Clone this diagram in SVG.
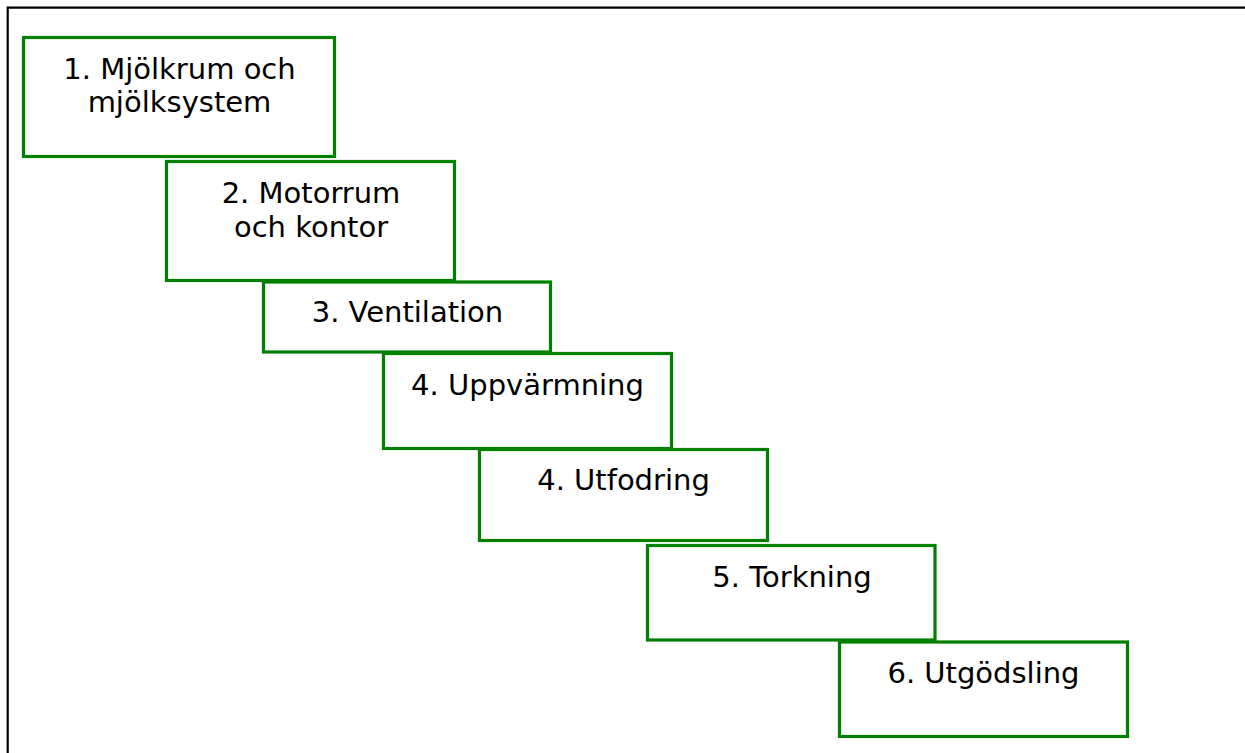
<svg xmlns="http://www.w3.org/2000/svg" width="1245" height="753" viewBox="0 0 1245 753">
<style>
.box{fill:#fff;stroke:#008000;stroke-width:3.2}
.t{font-family:"DejaVu Sans",Verdana,sans-serif;font-size:29px;fill:#000;text-anchor:middle}
.frame{stroke:#000;stroke-width:2.2;fill:none}
</style>
<rect width="1245" height="753" fill="#fff"/>
<path class="frame" d="M7.7,753 V7.7 H1245"/>
<g id="n1"><rect class="box" x="23.5" y="37.5" width="311" height="119"/><text class="t" x="179.5" y="78.5">1. Mjölkrum och</text><text class="t" x="179.5" y="112">mjölksystem</text></g>
<g id="n2"><rect class="box" x="166.5" y="161.5" width="288" height="119"/><text class="t" x="311" y="203">2. Motorrum</text><text class="t" x="311" y="236.5">och kontor</text></g>
<g id="n3"><rect class="box" x="263.5" y="282" width="287" height="70"/><text class="t" x="407.5" y="322">3. Ventilation</text></g>
<g id="n4"><rect class="box" x="383.5" y="353.5" width="288" height="95"/><text class="t" x="527.5" y="395">4. Uppvärmning</text></g>
<g id="n5"><rect class="box" x="479.5" y="449.5" width="288" height="91"/><text class="t" x="623.5" y="490">4. Utfodring</text></g>
<g id="n6"><rect class="box" x="647.5" y="545.5" width="287.5" height="94.5"/><text class="t" x="792" y="586.5">5. Torkning</text></g>
<g id="n7"><rect class="box" x="839.5" y="642" width="288" height="94.5"/><text class="t" x="983.5" y="682.5">6. Utgödsling</text></g>
<g id="connectors"></g>
</svg>
